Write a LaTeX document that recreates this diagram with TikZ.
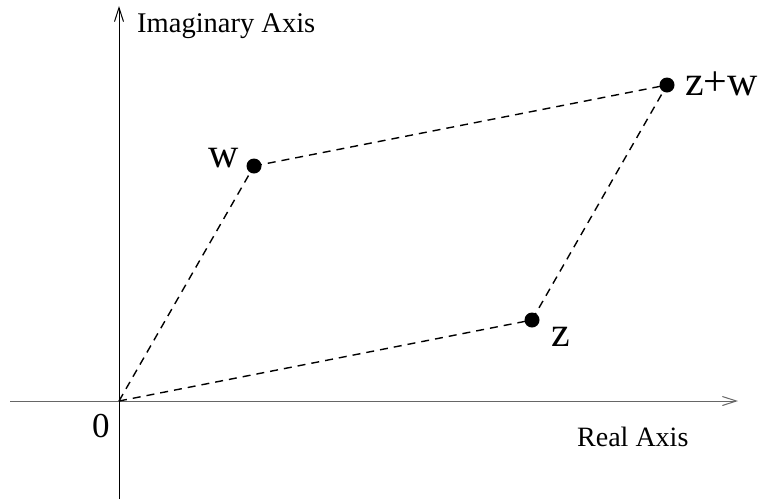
\documentclass[tikz,border=0pt]{standalone}
\usepackage{fontspec}
\setmainfont{Liberation Serif}
\usetikzlibrary{arrows.meta}
\begin{document}
\begin{tikzpicture}[x=1pt,y=-1pt,
  axis/.style={line width=1pt,-{Straight Barb[length=14pt,width=9pt,line width=1pt]}},
  dashline/.style={line width=1.4pt,dash pattern=on 8pt off 6pt},
  pt/.style={circle,fill=black,inner sep=0pt,minimum size=15pt},
  lbl/.style={inner sep=0pt,anchor=base west},
  ptlbl/.style={lbl,font=\fontsize{42}{44}\selectfont}]
\useasboundingbox (0,0) rectangle (760,499);
% axes
\coordinate (xl) at (10,401);
\coordinate (xr) at (738,401);
\coordinate (yb) at (119,499);
\coordinate (yt) at (119,6);
\draw[axis,draw=black!60] (xl) -- (xr);
\draw[axis] (yb) -- (yt);
% points
\coordinate (o) at (119,401);
\node[pt] (w) at (254,166) {};
\node[pt] (z) at (532,320) {};
\node[pt] (zw) at (667,85) {};
% dashed parallelogram
\draw[dashline] (o) -- (w.center);
\draw[dashline] (w.center) -- (zw.center);
\draw[dashline] (o) -- (z.center);
\draw[dashline] (z.center) -- (zw.center);
% labels
\node[lbl,font=\fontsize{28.5}{30}\selectfont] (ia) at (137,32) {Imaginary Axis};
\node[lbl,font=\fontsize{28}{30}\selectfont] (ra) at (577,446) {Real Axis};
\node[lbl,font=\fontsize{35}{36}\selectfont] (zero) at (92,437) {0};
\node[ptlbl] (wl) at (208,167) {w};
\node[ptlbl] (zl) at (551,346) {z};
\node[ptlbl] (zwl) at (685,95) {z+w};
\end{tikzpicture}
\end{document}
